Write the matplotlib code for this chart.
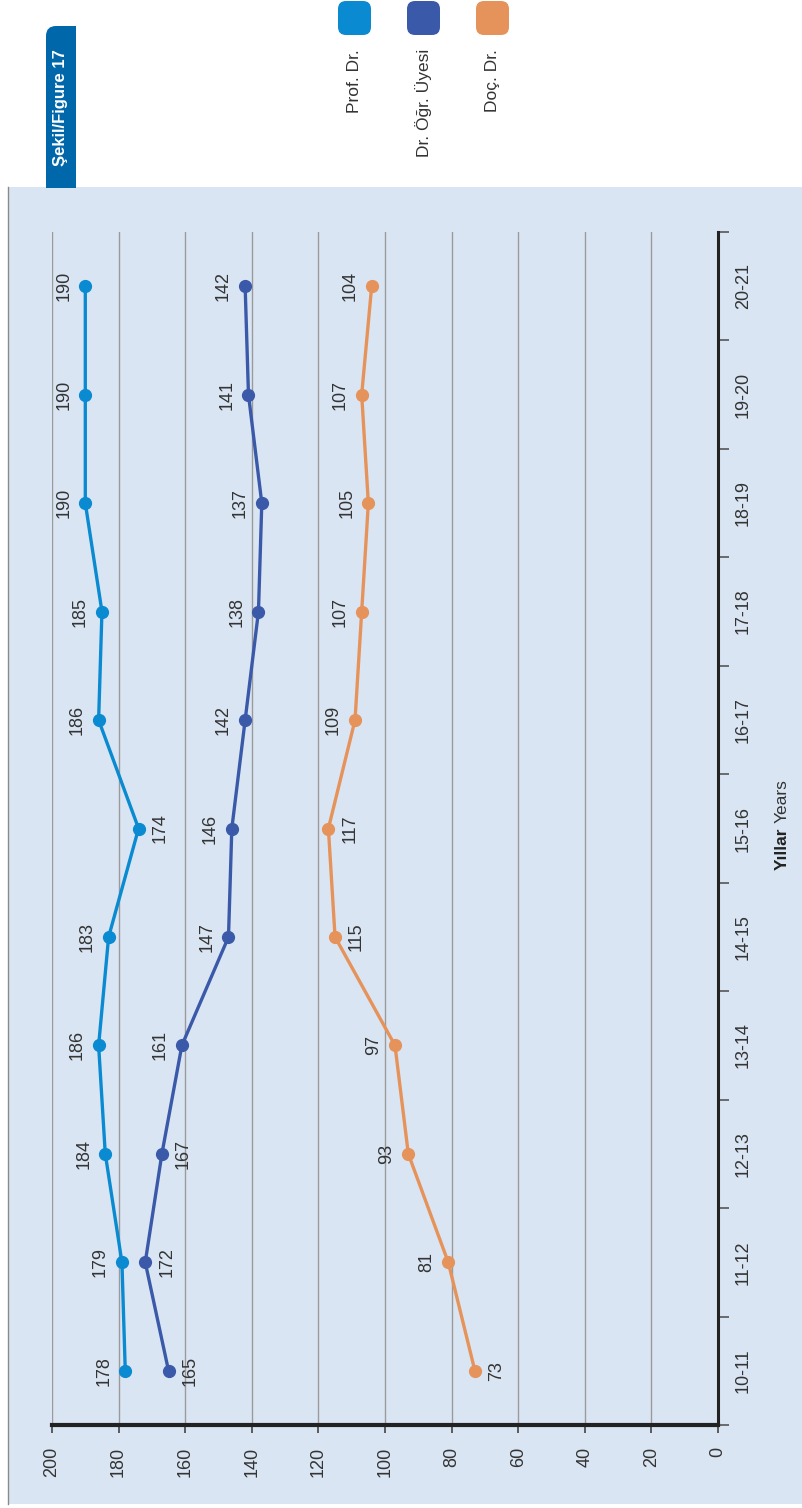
import numpy as np
import matplotlib
matplotlib.use('Agg')
import matplotlib.pyplot as plt
from matplotlib.patches import Rectangle, FancyBboxPatch
from matplotlib.lines import Line2D
from matplotlib.transforms import IdentityTransform

plt.rcParams['font.family'] = ['Liberation Sans', 'DejaVu Sans']

# data
years = ['10-11', '11-12', '12-13', '13-14', '14-15', '15-16',
         '16-17', '17-18', '18-19', '19-20', '20-21']
prof_dr = [178, 179, 184, 186, 183, 174, 186, 185, 190, 190, 190]
dr_ogr_uyesi = [165, 172, 167, 161, 147, 146, 142, 138, 137, 141, 142]
doc_dr = [73, 81, 93, 97, 115, 117, 109, 107, 105, 107, 104]
series_names = ['Prof. Dr.', 'Dr. Öğr. Üyesi', 'Doç. Dr.']

# styles
colors = ['#0a8ad0', '#3a5aa9', '#e5935a']
# -1 = label on left (above in unrotated chart), +1 = right
label_side = [
    [-1, -1, -1, -1, -1, 1, -1, -1, -1, -1, -1],
    [1, 1, 1, -1, -1, -1, -1, -1, -1, -1, -1],
    [1, -1, -1, -1, 1, 1, -1, -1, -1, -1, -1],
]

W, H = 802, 1508
fig = plt.figure(figsize=(W / 100, H / 100), dpi=100)


def fx(px):
    return px / W


def fy(py):
    return 1 - py / H


def box(x0, ytop, w, h, color, r=0):
    # pixel coords measured from top-left
    if r > 0:
        p = FancyBboxPatch((x0, H - ytop - h), w, h,
                           boxstyle='round,pad=0,rounding_size=%g' % r,
                           transform=IdentityTransform(),
                           facecolor=color, edgecolor='none')
    else:
        p = Rectangle((x0, H - ytop - h), w, h, transform=IdentityTransform(),
                      facecolor=color, edgecolor='none')
    fig.add_artist(p)
    return p


# background panel
bg = Rectangle((fx(8), fy(1504)), fx(802) - fx(8), fy(187) - fy(1504),
               transform=fig.transFigure, facecolor='#dae5f3',
               edgecolor='none', zorder=-5)
fig.patches.append(bg)
fig.add_artist(Line2D([fx(8), fx(8)], [fy(187), fy(1504)],
                      color='#8a8a8a', lw=1, zorder=-4))

# figure tab
tab_col = '#0067ab'
box(46, 26, 30, 162, tab_col, r=10)
box(61, 26, 15, 162, tab_col)
box(46, 100, 30, 88, tab_col)
fig.text(fx(61), fy(108), 'Şekil/Figure 17', rotation=90, ha='center',
         va='center', color='white', fontweight='bold', fontsize=12)

# legend
leg_x = [338, 407, 476]
for lx, name, c in zip(leg_x, series_names, colors):
    box(lx, 1, 33, 34, c, r=8)
    fig.text(fx(lx + 16.5), fy(49), name, rotation=90, ha='center',
             va='top', fontsize=12.5, color='#333333')

# axes
ax = fig.add_axes([52 / W, 1 - 1425 / H, 666 / W, 1193 / H])
ax.set_facecolor('none')

ypos = np.arange(len(years))
for vals, c, sides in zip([prof_dr, dr_ogr_uyesi, doc_dr], colors, label_side):
    ax.plot(vals, ypos, '-o', color=c, lw=2.4, ms=8.5, zorder=3,
            clip_on=False)
    for v, y, s in zip(vals, ypos, sides):
        ax.annotate(str(v), (v, y), xytext=(s * 15.5, 0),
                    textcoords='offset points', rotation=90, ha='center',
                    va='center', fontsize=13, color='#333333')

ax.set_xlim(200, 0)
ax.set_ylim(-0.5, len(years) - 0.5)
ax.set_xticks(np.arange(0, 201, 20))
ax.xaxis.grid(True, color='#9a9a9a', lw=1)
ax.set_axisbelow(True)

for sp in ['left', 'top']:
    ax.spines[sp].set_visible(False)
ax.spines['right'].set_color('#222222')
ax.spines['right'].set_linewidth(2.2)
ax.spines['bottom'].set_color('#222222')
ax.spines['bottom'].set_linewidth(3)

ax.tick_params(axis='x', length=6, width=1.2, color='#444444', pad=10,
               labelrotation=90, labelsize=13, labelcolor='#333333')

ax.yaxis.tick_right()
ax.set_yticks(ypos, years)
ax.set_yticks(np.arange(-0.5, len(years), 1), minor=True)
ax.tick_params(axis='y', which='major', length=0, pad=12, labelsize=13,
               labelcolor='#333333', labelrotation=90)
ax.tick_params(axis='y', which='minor', length=8, width=1.2,
               color='#555555', direction='out')
for lab in ax.get_yticklabels():
    lab.set_va('center')

# axis title, bold + regular part
t1 = fig.text(fx(782), fy(870), 'Yıllar', rotation=90, ha='center',
              va='bottom', fontweight='bold', fontsize=12.5, color='#222222')
fig.canvas.draw()
bb = t1.get_window_extent()
fig.text(fx(782), (bb.y1 + 4) / H, 'Years', rotation=90, ha='center',
         va='bottom', fontsize=12.5, color='#333333')

fig.savefig('out.png', dpi=100)
